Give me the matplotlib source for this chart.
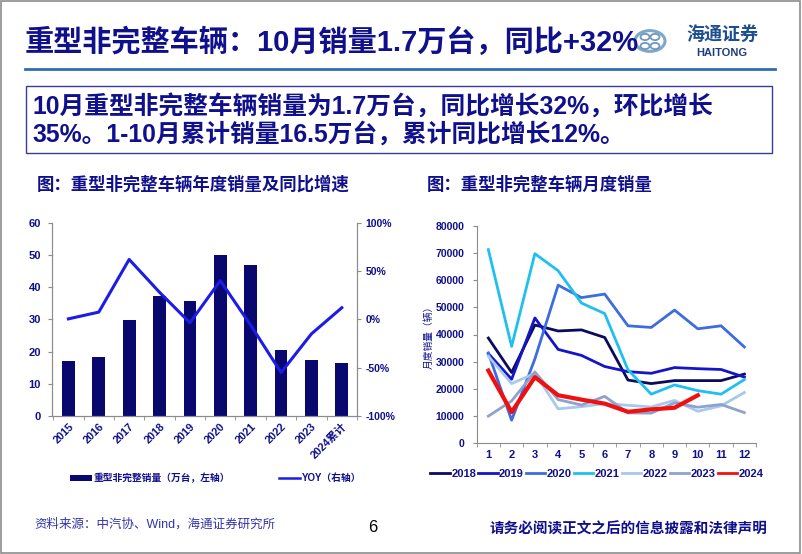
import matplotlib
matplotlib.use("Agg")
import matplotlib.pyplot as plt
from matplotlib.patches import Rectangle, Patch, Circle
from matplotlib.lines import Line2D
import numpy as np

FAM = ['Liberation Sans', 'Noto Sans CJK SC', 'DejaVu Sans']
CJK = ['Noto Sans CJK SC', 'DejaVu Sans']
plt.rcParams['font.family'] = FAM
NAVY = '#10108C'

# ---------------- data ----------------
years = ['2015', '2016', '2017', '2018', '2019', '2020', '2021', '2022', '2023', '2024累计']
annual_sales = [17.1, 18.4, 29.7, 37.2, 35.8, 49.9, 47.0, 20.6, 17.5, 16.6]
annual_yoy = [0.5, 7.5, 62, 28, -3.5, 40, -6, -55, -15, 12]

months = [1, 2, 3, 4, 5, 6, 7, 8, 9, 10, 11, 12]
s2018 = [38700, 26000, 43500, 41300, 41700, 38900, 23200, 21900, 23000, 23000, 23000, 25400]
s2019 = [33000, 23500, 46100, 34500, 32300, 28200, 26300, 25700, 27800, 27400, 27100, 24300]
s2020 = [33200, 8400, 31000, 58200, 53600, 54900, 43200, 42600, 49000, 42100, 43200, 35400]
s2021 = [71300, 35600, 69800, 63500, 51600, 47700, 27000, 18000, 21400, 19300, 18000, 23400]
s2022 = [32000, 21900, 25700, 12600, 13400, 14500, 13900, 13300, 15700, 11700, 13700, 18600]
s2023 = [9900, 15500, 26200, 16000, 14000, 17200, 11100, 11000, 14800, 13200, 14200, 11200]
s2024 = [26700, 11400, 24300, 17600, 16000, 14500, 11500, 12400, 13000, 17600]

series_names = ['2018', '2019', '2020', '2021', '2022', '2023', '2024']
series_vals = [s2018, s2019, s2020, s2021, s2022, s2023, s2024]
series_colors = ['#0B0B5E', '#1414C8', '#3D6BE0', '#1EC0F0', '#A8C8EC', '#8FA2CF', '#F01010']
series_lw = [2.0, 2.0, 2.0, 2.0, 2.0, 2.0, 3.0]

# ---------------- figure ----------------
W, H = 802, 554
fig = plt.figure(figsize=(W / 100, H / 100), dpi=100)

def fx(px):
    return px / W

def fy(py):
    return 1 - py / H

# outer frame
fig.add_artist(Rectangle((fx(1), fy(553)), fx(799), 552 / H, transform=fig.transFigure,
                         fill=False, edgecolor='#8C8C8C', lw=1.2))

# title
fig.text(fx(25), fy(42), '重型非完整车辆：10月销量1.7万台，同比+32%', fontsize=21,
         fontweight='bold', color=NAVY, va='center', ha='left', family=FAM)
# underline
fig.add_artist(Line2D([fx(25), fx(775)], [fy(69), fy(69)], transform=fig.transFigure,
                      color='#2F6DB5', lw=2))

# logo
cx, cy = 650, 41
fig.add_artist(Circle((fx(cx), fy(cy)), 15 / W, transform=fig.transFigure, fill=False,
                      edgecolor='#7FA8C8', lw=2.2))
for dx, dy in [(-5, -4), (5, -4), (-5, 5), (5, 5)]:
    fig.add_artist(Circle((fx(cx + dx), fy(cy + dy)), 4.5 / W, transform=fig.transFigure,
                          fill=False, edgecolor='#6F98BD', lw=1.3))
fig.text(fx(722), fy(34), '海通证券', fontsize=13, color='#1D4E8F', ha='center', va='center',
         family=CJK, style='italic', fontweight='bold')
fig.text(fx(722), fy(53), 'HAITONG', fontsize=8, color='#1D3F7F', ha='center', va='center',
         fontweight='bold', family=FAM)

# summary box
fig.add_artist(Rectangle((fx(26), fy(153)), fx(772 - 26), 67 / H, transform=fig.transFigure,
                         fill=False, edgecolor='#3A3AA0', lw=1.0))
fig.text(fx(32), fy(107), '10月重型非完整车辆销量为1.7万台，同比增长32%，环比增长', fontsize=17.8,
         fontweight='bold', color=NAVY, va='center', ha='left', family=FAM)
fig.text(fx(32), fy(134), '35%。1-10月累计销量16.5万台，累计同比增长12%。', fontsize=17.8,
         fontweight='bold', color=NAVY, va='center', ha='left', family=FAM)

# chart subtitles
fig.text(fx(37), fy(185), '图：重型非完整车辆年度销量及同比增速', fontsize=12.5, color=NAVY,
         va='center', ha='left', family=CJK, fontweight='bold')
fig.text(fx(427), fy(185), '图：重型非完整车辆月度销量', fontsize=12.5, color=NAVY,
         va='center', ha='left', family=CJK, fontweight='bold')

# ---------------- left chart ----------------
axL = fig.add_axes([fx(52), fy(416), fx(357 - 52), (416 - 222.7) / H])
x = np.arange(len(years))
axL.bar(x, annual_sales, width=0.42, color='#08086E', zorder=2)
axL.set_xlim(-0.54, len(years) - 0.5)
axL.set_ylim(0, 60)
axL.set_yticks(np.arange(0, 61, 10))
axL.set_xticks(x)
axL.set_xticklabels(years, rotation=45, ha='right', va='top', rotation_mode='anchor',
                    fontsize=7.8, fontweight='bold', color=NAVY)
axL.tick_params(axis='x', length=0, pad=4)
axL.set_xticks(np.arange(-0.5, len(years), 1), minor=True)
axL.tick_params(axis='x', which='minor', length=3, color='#8C8C8C', direction='out')
axL.tick_params(axis='y', length=3, color='#8C8C8C', labelsize=8, labelcolor=NAVY, pad=5)
for lab in axL.get_yticklabels():
    lab.set_fontweight('bold')
axL.spines['top'].set_visible(False)
for s in ['left', 'bottom', 'right']:
    axL.spines[s].set_color('#8C8C8C')

axR = axL.twinx()
axR.plot(x, annual_yoy, color='#1C1CE6', lw=2.2, zorder=3)
axR.set_ylim(-100, 100)
axR.set_yticks([-100, -50, 0, 50, 100])
axR.set_yticklabels(['-100%', '-50%', '0%', '50%', '100%'])
axR.tick_params(axis='y', length=3, color='#8C8C8C', labelsize=7.5, labelcolor=NAVY, pad=3)
for lab in axR.get_yticklabels():
    lab.set_fontweight('bold')
axR.spines['top'].set_visible(False)
for s in ['left', 'bottom', 'right']:
    axR.spines[s].set_color('#8C8C8C')

# left legend
handles_l = [Patch(facecolor='#08086E', edgecolor='none'),
             Line2D([], [], color='#1C1CE6', lw=1.8)]
fig.legend(handles_l, ['重型非完整销量（万台，左轴）', 'YOY（右轴）'], loc='center',
           bbox_to_anchor=(fx(216), fy(478)), ncol=2, frameon=False, columnspacing=5.0,
           handlelength=2.2, handleheight=0.5, handletextpad=0.2,
           prop={'family': FAM, 'size': 7, 'weight': 'bold'}, labelcolor=NAVY)

# ---------------- right chart ----------------
ax2 = fig.add_axes([fx(476.7), fy(443), fx(756 - 476.7), (443 - 226) / H])
for name, vals, col, lw in zip(series_names, series_vals, series_colors, series_lw):
    ax2.plot(months[:len(vals)], vals, color=col, lw=lw, label=name,
             zorder=4 if name == '2024' else 3)
ax2.set_xlim(0.5, 12.5)
ax2.set_ylim(0, 80000)
ax2.set_yticks(np.arange(0, 80001, 10000))
ax2.set_xticks(months)
ax2.tick_params(axis='x', length=0, labelsize=8, labelcolor=NAVY, pad=5)
ax2.set_xticks(np.arange(0.5, 12.6, 1), minor=True)
ax2.tick_params(axis='x', which='minor', length=3, color='#8C8C8C')
ax2.tick_params(axis='y', length=3, color='#8C8C8C', labelsize=7.5, labelcolor=NAVY, pad=6)
for lab in ax2.get_xticklabels() + ax2.get_yticklabels():
    lab.set_fontweight('bold')
for s in ['top', 'right']:
    ax2.spines[s].set_visible(False)
for s in ['left', 'bottom']:
    ax2.spines[s].set_color('#8C8C8C')
ax2.set_ylabel('月度销量（辆）', family=CJK, fontsize=7, color=NAVY, labelpad=1)

handles_r = [Line2D([], [], color=c, lw=2.0) for c in series_colors]
fig.legend(handles_r, series_names, loc='center', bbox_to_anchor=(fx(597), fy(474)), ncol=7,
           frameon=False, columnspacing=0.2, handlelength=1.75, handletextpad=0.12,
           prop={'family': FAM, 'size': 8, 'weight': 'bold'}, labelcolor=NAVY)

# footer
fig.text(fx(34), fy(524), '资料来源：中汽协、Wind，海通证券研究所', fontsize=9, color='#3434A8',
         va='center', ha='left', family=FAM)
fig.text(fx(373), fy(527), '6', fontsize=12, color='black', va='center', ha='center',
         family=['Liberation Sans'])
fig.text(fx(767), fy(528), '请务必阅读正文之后的信息披露和法律声明', fontsize=10.5, color=NAVY,
         va='center', ha='right', family=CJK, fontweight='bold')

fig.savefig('out.png', dpi=100)
